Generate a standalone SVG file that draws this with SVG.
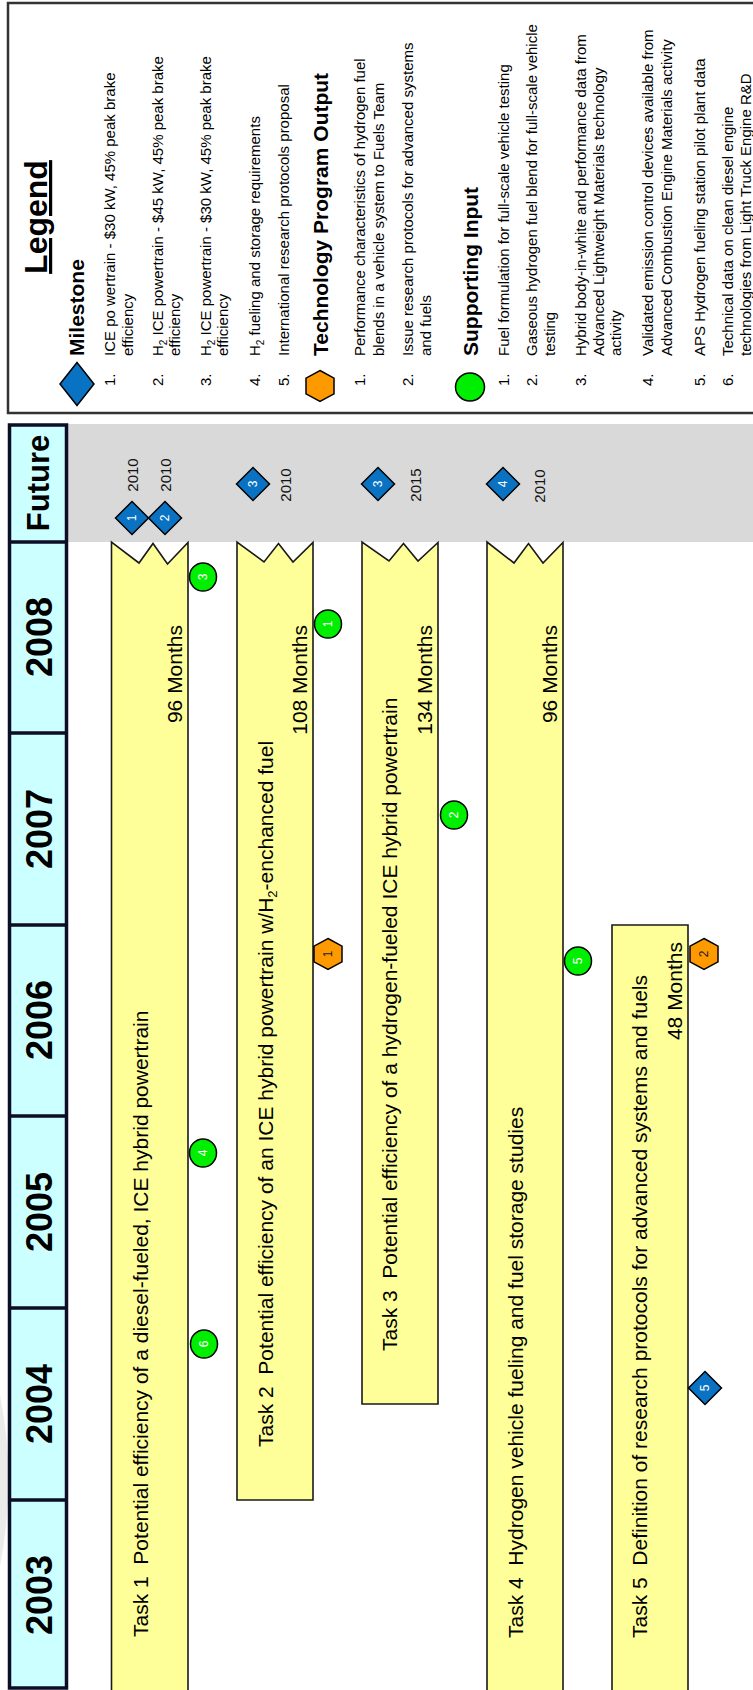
<svg xmlns="http://www.w3.org/2000/svg" width="753" height="1690" viewBox="0 0 753 1690">
  <style>
    text { font-family: "Liberation Sans", Arial, Helvetica, sans-serif; fill: #000; }
    .yr { font-size: 36px; font-weight: bold; }
    .fut { font-size: 31px; font-weight: bold; }
    .task { font-size: 21px; }
    .leg { font-size: 15px; }
    .hd { font-size: 21px; font-weight: bold; }
    .title { font-size: 32px; font-weight: bold; text-decoration: underline; }
    .date { font-size: 15px; fill: #111; }
    .num { font-size: 12px; fill: #fff; text-anchor: middle; }
    .numd { font-size: 12px; fill: #222; text-anchor: middle; }
    .bar { fill: #ffff99; stroke: #1a1a1a; stroke-width: 1.6; }
    .ms { fill: #0a72c2; stroke: #000; stroke-width: 1.5; }
    .out { fill: #ff9900; stroke: #000; stroke-width: 1.5; }
    .inp { fill: #00ee00; stroke: #000; stroke-width: 1.5; }
    .cell { fill: #ccffff; }
    .frame { fill: none; stroke: #0d0d26; stroke-width: 3.5; }
  </style>
  <defs>
    <polygon id="diamond" points="0,-16.5 16.5,0 0,16.5 -16.5,0"/>
    <polygon id="hex" points="0,-15.5 14,-7.8 14,7.8 0,15.5 -14,7.8 -14,-7.8"/>
  </defs>

  <rect width="753" height="1690" fill="#fff"/>

  <!-- faint mark on the left margin -->
  <path d="M0,1395 Q17,1480 0,1566 Z" fill="#ebebeb"/>

  <!-- Legend panel -->
  <g id="legend">
    <rect x="8" y="3" width="770" height="410" fill="#fff" stroke="#333" stroke-width="2.5"/>
    <text class="title" transform="translate(47,217) rotate(-90)" text-anchor="middle">Legend</text>

    <g id="legend-milestone">
      <polygon class="ms" points="77,362.5 94,384 77,405.5 60,384"/>
      <text class="hd" transform="translate(83.5,356) rotate(-90)">Milestone</text>
      <g class="leg">
        <text class="leg" transform="translate(115,386) rotate(-90)">1.</text>
        <text class="leg" transform="translate(115,356) rotate(-90)">ICE po wertrain - $30 kW, 45% peak brake</text>
        <text class="leg" transform="translate(133,356) rotate(-90)">efficiency</text>
        <text class="leg" transform="translate(163,386) rotate(-90)">2.</text>
        <text class="leg" transform="translate(163,356) rotate(-90)">H<tspan font-size="10" dy="4">2</tspan><tspan dy="-4"> ICE powertrain - $45 kW, 45% peak brake</tspan></text>
        <text class="leg" transform="translate(180,356) rotate(-90)">efficiency</text>
        <text class="leg" transform="translate(211,386) rotate(-90)">3.</text>
        <text class="leg" transform="translate(211,356) rotate(-90)">H<tspan font-size="10" dy="4">2</tspan><tspan dy="-4"> ICE powertrain - $30 kW, 45% peak brake</tspan></text>
        <text class="leg" transform="translate(228,356) rotate(-90)">efficiency</text>
        <text class="leg" transform="translate(260,386) rotate(-90)">4.</text>
        <text class="leg" transform="translate(260,356) rotate(-90)">H<tspan font-size="10" dy="4">2</tspan><tspan dy="-4"> fueling and storage requirements</tspan></text>
        <text class="leg" transform="translate(289,386) rotate(-90)">5.</text>
        <text class="leg" transform="translate(289,356) rotate(-90)">International research protocols proposal</text>
      </g>
    </g>

    <g id="legend-output">
      <use href="#hex" class="out" transform="translate(320,386)"/>
      <text class="hd" transform="translate(327.5,356) rotate(-90)">Technology Program Output</text>
      <text class="leg" transform="translate(365,386) rotate(-90)">1.</text>
      <text class="leg" transform="translate(365,356) rotate(-90)">Performance characteristics of hydrogen fuel</text>
      <text class="leg" transform="translate(384,356) rotate(-90)">blends in a vehicle system to Fuels Team</text>
      <text class="leg" transform="translate(413,386) rotate(-90)">2.</text>
      <text class="leg" transform="translate(413,356) rotate(-90)">Issue research protocols for advanced systems</text>
      <text class="leg" transform="translate(431,356) rotate(-90)">and fuels</text>
    </g>

    <g id="legend-input">
      <ellipse class="inp" cx="470" cy="387" rx="14.5" ry="14"/>
      <text class="hd" transform="translate(477.5,356) rotate(-90)">Supporting Input</text>
      <text class="leg" transform="translate(509,386) rotate(-90)">1.</text>
      <text class="leg" transform="translate(509,356) rotate(-90)">Fuel formulation for full-scale vehicle testing</text>
      <text class="leg" transform="translate(537,386) rotate(-90)">2.</text>
      <text class="leg" transform="translate(537,356) rotate(-90)">Gaseous hydrogen fuel blend for full-scale vehicle</text>
      <text class="leg" transform="translate(555,356) rotate(-90)">testing</text>
      <text class="leg" transform="translate(586,386) rotate(-90)">3.</text>
      <text class="leg" transform="translate(586,356) rotate(-90)">Hybrid body-in-white and performance data from</text>
      <text class="leg" transform="translate(604,356) rotate(-90)">Advanced Lightweight Materials technology</text>
      <text class="leg" transform="translate(621,356) rotate(-90)">activity</text>
      <text class="leg" transform="translate(653,386) rotate(-90)">4.</text>
      <text class="leg" transform="translate(653,356) rotate(-90)">Validated emission control devices available from</text>
      <text class="leg" transform="translate(672,356) rotate(-90)">Advanced Combustion Engine Materials activity</text>
      <text class="leg" transform="translate(705,386) rotate(-90)">5.</text>
      <text class="leg" transform="translate(705,356) rotate(-90)">APS Hydrogen fueling station pilot plant data</text>
      <text class="leg" transform="translate(733,386) rotate(-90)">6.</text>
      <text class="leg" transform="translate(733,356) rotate(-90)">Technical data on clean diesel engine</text>
      <text class="leg" transform="translate(751,356) rotate(-90)">technologies from Light Truck Engine R&amp;D</text>
    </g>
  </g>

  <!-- Future band -->
  <rect id="future-band" x="68" y="424" width="700" height="118" fill="#d9d9d9"/>

  <!-- Year axis -->
  <g id="year-axis">
    <rect class="cell" x="9.5" y="425" width="57" height="1270"/>
    <g stroke="#0d0d26" stroke-width="3.5">
      <line x1="9.5" y1="542" x2="66.5" y2="542"/>
      <line x1="9.5" y1="733" x2="66.5" y2="733"/>
      <line x1="9.5" y1="925" x2="66.5" y2="925"/>
      <line x1="9.5" y1="1116" x2="66.5" y2="1116"/>
      <line x1="9.5" y1="1308" x2="66.5" y2="1308"/>
      <line x1="9.5" y1="1500" x2="66.5" y2="1500"/>
    </g>
    <rect class="frame" x="9.5" y="425" width="57" height="1263"/>
    <text class="fut" transform="translate(49,483) rotate(-90)" text-anchor="middle">Future</text>
    <text class="yr" transform="translate(52,637) rotate(-90)" text-anchor="middle">2008</text>
    <text class="yr" transform="translate(52,829) rotate(-90)" text-anchor="middle">2007</text>
    <text class="yr" transform="translate(52,1020) rotate(-90)" text-anchor="middle">2006</text>
    <text class="yr" transform="translate(52,1212) rotate(-90)" text-anchor="middle">2005</text>
    <text class="yr" transform="translate(52,1404) rotate(-90)" text-anchor="middle">2004</text>
    <text class="yr" transform="translate(52,1595) rotate(-90)" text-anchor="middle">2003</text>
  </g>

  <!-- Task bars -->
  <g id="task1">
    <path class="bar" d="M111.5,1700 L111.5,542 L139,563 L153,543.5 L167.5,564 L188,542.5 L188,1700"/>
    <text class="task" xml:space="preserve" transform="translate(148,1637) rotate(-90)">Task 1  Potential efficiency of a diesel-fueled, ICE hybrid powertrain</text>
    <text class="task" transform="translate(182,625) rotate(-90)" text-anchor="end">96 Months</text>
  </g>
  <g id="task2">
    <path class="bar" d="M237,1500 L237,542 L264,562 L278.5,543.5 L293,562 L313,542.5 L313,1500 Z"/>
    <text class="task" xml:space="preserve" transform="translate(273,1447) rotate(-90)">Task 2  Potential efficiency of an ICE hybrid powertrain w/H<tspan font-size="13" dy="4">2</tspan><tspan dy="-4">-enchanced fuel</tspan></text>
    <text class="task" transform="translate(307,625) rotate(-90)" text-anchor="end">108 Months</text>
  </g>
  <g id="task3">
    <path class="bar" d="M362,1404 L362,542 L389,561 L403.5,543.5 L418,561 L438,542.5 L438,1404 Z"/>
    <text class="task" xml:space="preserve" transform="translate(397,1351) rotate(-90)">Task 3  Potential efficiency of a hydrogen-fueled ICE hybrid powertrain</text>
    <text class="task" transform="translate(432,625) rotate(-90)" text-anchor="end">134 Months</text>
  </g>
  <g id="task4">
    <path class="bar" d="M487,1700 L487,542 L514,563 L528.5,543.5 L543,563 L563,542.5 L563,1700"/>
    <text class="task" xml:space="preserve" transform="translate(523,1638) rotate(-90)">Task 4  Hydrogen vehicle fueling and fuel storage studies</text>
    <text class="task" transform="translate(557,625) rotate(-90)" text-anchor="end">96 Months</text>
  </g>
  <g id="task5">
    <path class="bar" d="M612,1700 L612,925 L688,925 L688,1700"/>
    <text class="task" xml:space="preserve" transform="translate(647,1638) rotate(-90)">Task 5  Definition of research protocols for advanced systems and fuels</text>
    <text class="task" transform="translate(682,942) rotate(-90)" text-anchor="end">48 Months</text>
  </g>

  <!-- Milestones -->
  <g id="milestones">
    <g id="ms1" transform="translate(132,518)">
      <use href="#diamond" class="ms"/>
      <text class="num" transform="translate(4.3,0) rotate(-90)">1</text>
    </g>
    <text class="date" transform="translate(137.5,475) rotate(-90)" text-anchor="middle">2010</text>
    <g id="ms2" transform="translate(165,518)">
      <use href="#diamond" class="ms"/>
      <text class="num" transform="translate(4.3,0) rotate(-90)">2</text>
    </g>
    <text class="date" transform="translate(170.5,475) rotate(-90)" text-anchor="middle">2010</text>
    <g id="ms3a" transform="translate(253,484)">
      <use href="#diamond" class="ms"/>
      <text class="num" transform="translate(4.3,0) rotate(-90)">3</text>
    </g>
    <text class="date" transform="translate(291,485) rotate(-90)" text-anchor="middle">2010</text>
    <g id="ms3b" transform="translate(378,484)">
      <use href="#diamond" class="ms"/>
      <text class="num" transform="translate(4.3,0) rotate(-90)">3</text>
    </g>
    <text class="date" transform="translate(421,485) rotate(-90)" text-anchor="middle">2015</text>
    <g id="ms4" transform="translate(503,484)">
      <use href="#diamond" class="ms"/>
      <text class="num" transform="translate(4.3,0) rotate(-90)">4</text>
    </g>
    <text class="date" transform="translate(545,486) rotate(-90)" text-anchor="middle">2010</text>
    <g id="ms5" transform="translate(705,1388)">
      <use href="#diamond" class="ms"/>
      <text class="num" transform="translate(4.3,0) rotate(-90)">5</text>
    </g>
  </g>

  <!-- Technology program outputs -->
  <g id="outputs">
    <g id="out1" transform="translate(328,954)">
      <use href="#hex" class="out"/>
      <text class="numd" transform="translate(4.3,0) rotate(-90)">1</text>
    </g>
    <g id="out2" transform="translate(704,954)">
      <use href="#hex" class="out"/>
      <text class="numd" transform="translate(4.3,0) rotate(-90)">2</text>
    </g>
  </g>

  <!-- Supporting inputs -->
  <g id="inputs">
    <g id="in1" transform="translate(328,624)">
      <ellipse class="inp" rx="13.5" ry="14"/>
      <text class="num" transform="translate(4.3,0) rotate(-90)">1</text>
    </g>
    <g id="in2" transform="translate(454,815)">
      <ellipse class="inp" rx="13.5" ry="14"/>
      <text class="num" transform="translate(4.3,0) rotate(-90)">2</text>
    </g>
    <g id="in3" transform="translate(203,577)">
      <ellipse class="inp" rx="13.5" ry="14"/>
      <text class="num" transform="translate(4.3,0) rotate(-90)">3</text>
    </g>
    <g id="in4" transform="translate(203,1153)">
      <ellipse class="inp" rx="13.5" ry="14"/>
      <text class="num" transform="translate(4.3,0) rotate(-90)">4</text>
    </g>
    <g id="in5" transform="translate(578,961)">
      <ellipse class="inp" rx="13.5" ry="14"/>
      <text class="num" transform="translate(4.3,0) rotate(-90)">5</text>
    </g>
    <g id="in6" transform="translate(204,1344)">
      <ellipse class="inp" rx="13.5" ry="14"/>
      <text class="num" transform="translate(4.3,0) rotate(-90)">6</text>
    </g>
  </g>
</svg>
